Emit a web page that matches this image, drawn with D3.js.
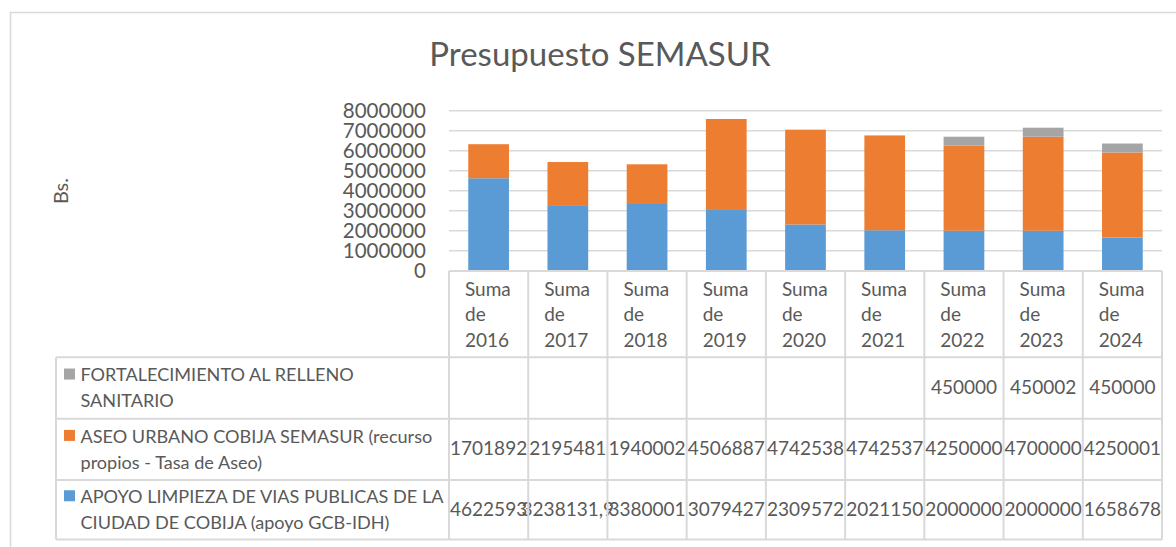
<!DOCTYPE html>
<html>
<head>
<meta charset="utf-8">
<script src="https://cdn.jsdelivr.net/npm/d3@7"></script>
<style>
  html, body { margin: 0; padding: 0; background: #fff; }
  svg { display: block; font-family: Lato, "Open Sans", sans-serif; }
</style>
</head>
<body>
<svg id="chart" width="1176" height="547"></svg>
<script>
// ---- data ----
const years = ["2016", "2017", "2018", "2019", "2020", "2021", "2022", "2023", "2024"];
const categories = years.map(y => "Suma de " + y);
const apoyo = [4622593, 3238131.9, 3380001, 3079427, 2309572, 2021150, 2000000, 2000000, 1658678];
const aseo = [1701892, 2195481, 1940002, 4506887, 4742538, 4742537, 4250000, 4700000, 4250001];
const fortalecimiento = [null, null, null, null, null, null, 450000, 450002, 450000];
const seriesNames = [
  ["FORTALECIMIENTO AL RELLENO", "SANITARIO"],
  ["ASEO URBANO COBIJA SEMASUR (recurso", "propios - Tasa de Aseo)"],
  ["APOYO LIMPIEZA DE VIAS PUBLICAS DE LA", "CIUDAD DE COBIJA (apoyo GCB-IDH)"]
];
const yTicks = [0, 1000000, 2000000, 3000000, 4000000, 5000000, 6000000, 7000000, 8000000];
const title = "Presupuesto SEMASUR";
const yLabel = "Bs.";

// ---- layout ----
const svg = d3.select("#chart");
const textColor = "#595959";
const lineColor = "#d9d9d9";
const colors = { apoyo: "#5B9BD5", aseo: "#ED7D31", fort: "#A5A5A5" };
const plotLeft = 449, plotRight = 1162, plotTop = 110.7, plotBottom = 270.7;

// chart border
svg.append("rect").attr("x", 10.5).attr("y", 12.5).attr("width", 1200).attr("height", 600)
  .attr("fill", "#fff").attr("stroke", lineColor).attr("stroke-width", 1.5);

// title
svg.append("text").attr("x", 600).attr("y", 66).attr("text-anchor", "middle")
  .attr("font-size", 33).attr("fill", textColor).text(title);

// y label
svg.append("text").attr("transform", "translate(68,191) rotate(-90)")
  .attr("text-anchor", "middle").attr("font-size", 20).attr("fill", textColor).text(yLabel);

const x = d3.scaleBand().domain(categories).range([plotLeft, plotRight])
  .paddingInner(0.486).paddingOuter(0.243);
const col = d3.scaleBand().domain(categories).range([plotLeft, plotRight]);
const y = d3.scaleLinear().domain([0, 8000000]).range([plotBottom, plotTop]);

// gridlines
svg.append("g").selectAll("line").data(yTicks.filter(d => d > 0)).join("line")
  .attr("x1", plotLeft).attr("x2", plotRight)
  .attr("y1", d => y(d)).attr("y2", d => y(d))
  .attr("stroke", lineColor).attr("stroke-width", 1.5);

// y axis
const yAxis = svg.append("g").attr("transform", `translate(${plotLeft},0)`)
  .call(d3.axisLeft(y).tickValues(yTicks).tickFormat(d3.format("d")).tickSize(0).tickPadding(23));
yAxis.select(".domain").remove();
yAxis.selectAll("text").attr("font-size", 20.5).attr("fill", textColor)
  .attr("font-family", "Lato, sans-serif");

// stacked bars
const rows = categories.map((c, i) => ({ cat: c, apoyo: apoyo[i], aseo: aseo[i], fort: fortalecimiento[i] || 0 }));
const stack = d3.stack().keys(["apoyo", "aseo", "fort"])(rows);
svg.append("g").selectAll("g").data(stack).join("g")
  .attr("fill", d => colors[d.key])
  .selectAll("rect").data(d => d.filter(p => p[1] - p[0] > 0)).join("rect")
  .attr("x", d => x(d.data.cat)).attr("width", x.bandwidth())
  .attr("y", d => y(d[1])).attr("height", d => y(d[0]) - y(d[1]));

// ---- data table ----
const tableLeft = 56;
const rowLines = [357.3, 418.8, 480, 539.5];
const headerTop = 271;
const g = svg.append("g");
const fmt = v => v == null ? "" : String(v).replace(".", ",");

// header cells
categories.forEach((c, i) => {
  const x0 = col(c);
  const t = g.append("text").attr("font-size", 19).attr("fill", textColor);
  ["Suma", "de", years[i]].forEach((w, k) => {
    t.append("tspan").attr("x", x0 + 16).attr("y", 295.7 + k * 25.5).text(w);
  });
});

// data rows: fort, aseo, apoyo
const tableSeries = [
  { vals: fortalecimiento, color: colors.fort, name: seriesNames[0] },
  { vals: aseo, color: colors.aseo, name: seriesNames[1] },
  { vals: apoyo, color: colors.apoyo, name: seriesNames[2] }
];
tableSeries.forEach((s, r) => {
  const top = rowLines[r], bot = rowLines[r + 1], mid = (top + bot) / 2;
  g.append("rect").attr("x", 64).attr("y", mid - 19.5).attr("width", 11).attr("height", 11).attr("fill", s.color);
  const t = g.append("text").attr("font-size", 18.1).attr("fill", textColor);
  s.name.forEach((line, k) => {
    t.append("tspan").attr("x", 80.5).attr("y", mid - 6.7 + k * 26).text(line);
  });
  s.vals.forEach((v, i) => {
    g.append("text").attr("x", col(categories[i]) + col.bandwidth() / 2).attr("y", mid + 6)
      .attr("text-anchor", "middle").attr("font-size", 19).attr("fill", textColor).text(fmt(v));
  });
});

// table lines
const lineAttrs = sel => sel.attr("stroke", lineColor).attr("stroke-width", 2).attr("fill", "none");
lineAttrs(g.append("line").attr("x1", plotLeft).attr("x2", plotRight).attr("y1", headerTop).attr("y2", headerTop));
rowLines.forEach(yy => lineAttrs(g.append("line").attr("x1", tableLeft).attr("x2", plotRight).attr("y1", yy).attr("y2", yy)));
const colEdges = categories.map(c => col(c)).concat([plotRight]);
colEdges.forEach(xx => lineAttrs(g.append("line").attr("x1", xx).attr("x2", xx).attr("y1", headerTop).attr("y2", rowLines[3])));
lineAttrs(g.append("line").attr("x1", tableLeft).attr("x2", tableLeft).attr("y1", rowLines[0]).attr("y2", rowLines[3]));
</script>
</body>
</html>
